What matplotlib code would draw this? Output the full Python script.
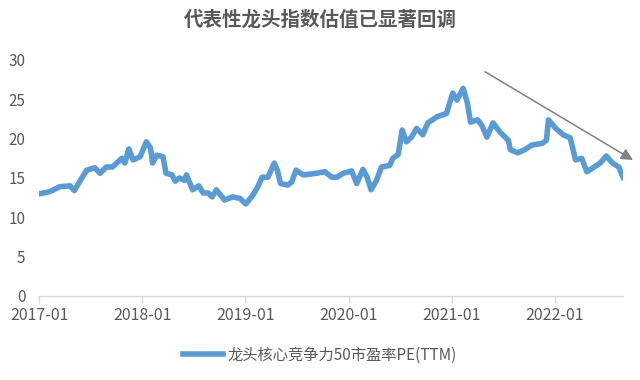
import matplotlib
matplotlib.use("Agg")
import matplotlib.pyplot as plt
import matplotlib.dates as mdates
import pandas as pd

plt.rcParams['font.family'] = ['Noto Sans CJK SC', 'DejaVu Sans']

title = "代表性龙头指数估值已显著回调"
series_name = "龙头核心竞争力50市盈率PE(TTM)"

dates = [
    "2017-01-03", "2017-02-06", "2017-03-15", "2017-04-20", "2017-05-05", "2017-05-23",
    "2017-06-18", "2017-07-16", "2017-08-04", "2017-08-26", "2017-09-17", "2017-10-20",
    "2017-10-31", "2017-11-14", "2017-11-29", "2017-12-24", "2018-01-15", "2018-01-30",
    "2018-02-06", "2018-02-21", "2018-03-15", "2018-03-26", "2018-04-16", "2018-04-27",
    "2018-05-12", "2018-05-30", "2018-06-06", "2018-06-28", "2018-07-20", "2018-08-04",
    "2018-08-22", "2018-09-05", "2018-09-20", "2018-10-19", "2018-11-17", "2018-12-13",
    "2019-01-02", "2019-01-27", "2019-02-14", "2019-03-01", "2019-03-22", "2019-04-13",
    "2019-04-24", "2019-05-05", "2019-05-31", "2019-06-14", "2019-06-29", "2019-07-24",
    "2019-08-19", "2019-09-10", "2019-10-09", "2019-11-03", "2019-11-21", "2019-12-13",
    "2020-01-12", "2020-01-30", "2020-02-21", "2020-03-07", "2020-03-21", "2020-04-09",
    "2020-04-27", "2020-05-26", "2020-06-06", "2020-06-25", "2020-07-09", "2020-07-24",
    "2020-08-11", "2020-08-29", "2020-09-20", "2020-10-08", "2020-11-10", "2020-12-13",
    "2021-01-04", "2021-01-19", "2021-02-10", "2021-02-25", "2021-03-08", "2021-04-02",
    "2021-04-17", "2021-05-05", "2021-05-27", "2021-06-21", "2021-07-20", "2021-07-27",
    "2021-08-22", "2021-09-16", "2021-10-12", "2021-11-17", "2021-12-02", "2021-12-09",
    "2022-01-04", "2022-01-30", "2022-02-24", "2022-03-15", "2022-04-06", "2022-04-24",
    "2022-05-16", "2022-06-10", "2022-07-02", "2022-07-24", "2022-08-15", "2022-08-30",
]
pe_values = [
    13.0, 13.25, 13.9, 14.0, 13.4, 14.5,
    16.0, 16.3, 15.6, 16.4, 16.4, 17.5,
    16.9, 18.7, 17.3, 17.7, 19.6, 18.8,
    16.9, 17.9, 17.7, 15.6, 15.4, 14.6,
    15.0, 14.7, 15.4, 13.5, 14.0, 13.1,
    13.1, 12.6, 13.5, 12.2, 12.6, 12.4,
    11.7, 12.8, 13.9, 15.1, 15.1, 16.9,
    16.0, 14.3, 14.1, 14.5, 16.0, 15.4,
    15.5, 15.6, 15.8, 15.1, 15.1, 15.6,
    15.9, 14.3, 16.1, 15.1, 13.5, 14.7,
    16.4, 16.6, 17.5, 18.0, 21.1, 19.6,
    20.2, 21.3, 20.5, 22.0, 22.8, 23.2,
    25.8, 24.9, 26.4, 24.5, 22.1, 22.4,
    21.7, 20.2, 22.0, 20.8, 19.8, 18.6,
    18.2, 18.6, 19.2, 19.4, 19.8, 22.4,
    21.3, 20.5, 20.1, 17.3, 17.5, 15.8,
    16.3, 16.9, 17.8, 16.9, 16.4, 15.1,
]
y_ticks = [0, 5, 10, 15, 20, 25, 30]
x_tick_labels = ["2017-01", "2018-01", "2019-01", "2020-01", "2021-01", "2022-01"]

x = pd.to_datetime(dates)

fig = plt.figure(figsize=(6.4, 3.8), dpi=100)
ax = fig.add_axes([39.3 / 640, 1 - 296 / 380, (623 - 39.3) / 640, (296 - 60) / 380])

ax.plot(x, pe_values, color="#5b9bd5", linewidth=4.0, solid_joinstyle="round",
        label=series_name)

ax.set_ylim(0, 30)
ax.set_yticks(y_ticks)
ax.set_xlim(pd.Timestamp("2017-01-01"), pd.Timestamp("2022-08-30"))
ax.set_xticks(pd.to_datetime([s + "-01" for s in x_tick_labels]))
ax.set_xticklabels(x_tick_labels)

for s in ["top", "right", "left"]:
    ax.spines[s].set_visible(False)
ax.spines["bottom"].set_color("#d9d9d9")
ax.spines["bottom"].set_linewidth(1.0)
ax.tick_params(axis="x", colors="#d9d9d9", length=5, width=1.0, labelcolor="#595959",
               labelsize=11.5, pad=3)
ax.tick_params(axis="y", length=0, labelcolor="#595959", labelsize=11, pad=10)

fig.text(0.5, 1 - 20 / 380, title, ha="center", va="center", fontsize=14,
         fontweight="bold", color="#595959")

leg = ax.legend(loc="center", bbox_to_anchor=(0.5, 1 - 355 / 380), bbox_transform=fig.transFigure,
                frameon=False, fontsize=11, handlelength=2.6, handletextpad=0.3)
for t in leg.get_texts():
    t.set_color("#595959")

ax.annotate("", xy=(633 / 640, 1 - 160 / 380), xytext=(485 / 640, 1 - 71.7 / 380),
            xycoords="figure fraction", textcoords="figure fraction",
            arrowprops=dict(arrowstyle="-|>,head_length=0.7,head_width=0.35",
                            color="#808080", lw=1.1, shrinkA=0, shrinkB=0))

fig.savefig("out.png", dpi=100)
